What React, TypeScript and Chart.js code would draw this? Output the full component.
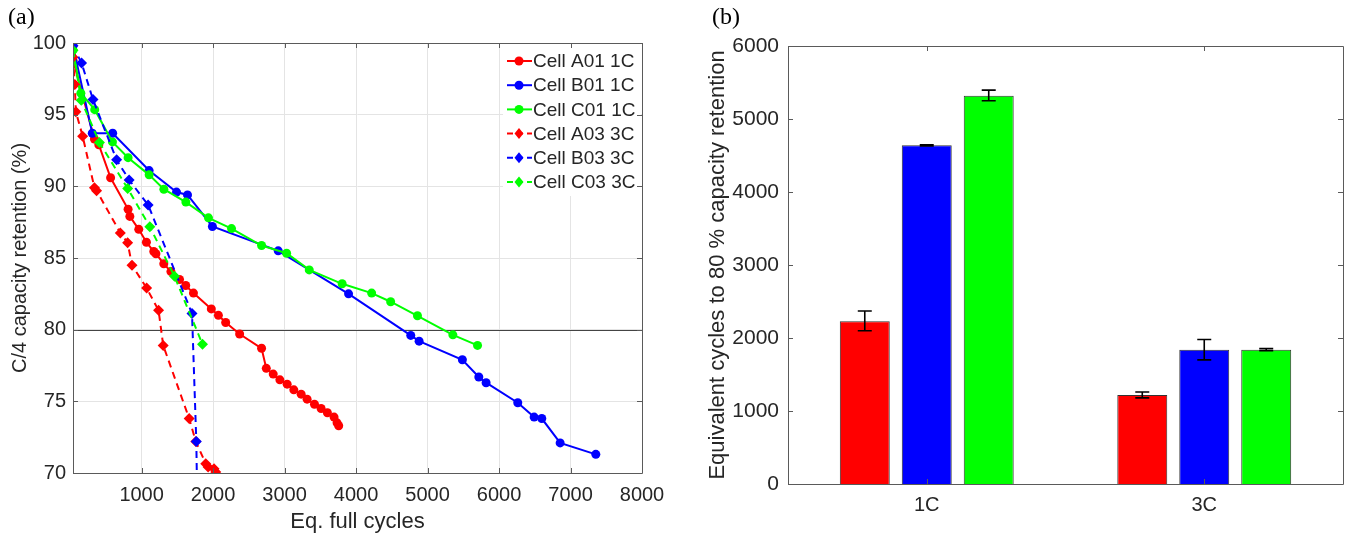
import React, { useEffect, useRef } from "react";
import { Chart, registerables } from "chart.js";
Chart.register(...registerables);

const FONT = "'Liberation Sans', Arial, Helvetica, sans-serif";
const TEXT = "#262626";
const AXIS = "#5a5a5a";

// ---------- (a) capacity retention vs equivalent full cycles ----------
const a01Cycles = [40, 340, 401, 566, 811, 835, 960, 1067, 1170, 1200, 1310, 1410, 1530, 1617, 1725, 1975, 2074, 2176, 2371, 2678, 2744, 2841, 2934, 3036, 3129, 3232, 3315, 3418, 3511, 3599, 3692, 3734, 3757];
const a01Retention = [98.8, 93.3, 92.9, 90.6, 88.4, 87.9, 87.0, 86.1, 85.45, 85.3, 84.6, 84.05, 83.5, 83.08, 82.55, 81.45, 81.0, 80.5, 79.7, 78.7, 77.3, 76.9, 76.5, 76.2, 75.8, 75.5, 75.15, 74.8, 74.5, 74.2, 73.9, 73.5, 73.3];

const b01Cycles = [40, 310, 595, 1105, 1488, 1642, 1990, 2911, 3895, 4765, 4882, 5487, 5717, 5819, 6262, 6491, 6598, 6855, 7354];
const b01Retention = [99.8, 93.7, 93.7, 91.1, 89.6, 89.4, 87.2, 85.5, 82.5, 79.6, 79.2, 77.9, 76.7, 76.3, 74.9, 73.9, 73.8, 72.1, 71.3];

const c01Cycles = [40, 150, 344, 592, 811, 1105, 1311, 1619, 1935, 2258, 2678, 3028, 3345, 3805, 4218, 4484, 4859, 5354, 5699];
const c01Retention = [99.5, 96.5, 95.35, 93.1, 92.0, 90.8, 89.8, 88.9, 87.8, 87.05, 85.87, 85.33, 84.17, 83.2, 82.55, 81.95, 80.97, 79.64, 78.9];

const a03Cycles = [40, 65, 80, 175, 340, 370, 702, 804, 865, 1070, 1237, 1302, 1665, 1758, 1897, 1930, 2013, 2037];
const a03Retention = [99.0, 97.1, 95.2, 93.5, 89.9, 89.7, 86.75, 86.07, 84.5, 82.9, 81.35, 78.9, 73.8, 72.2, 70.65, 70.42, 70.3, 70.07];

const b03Cycles = [40, 160, 320, 650, 825, 1091, 1705, 1765, 1775];
const b03Retention = [99.8, 98.6, 96.05, 91.85, 90.45, 88.7, 81.12, 72.2, 69.0];

const c03Cycles = [40, 155, 410, 805, 1115, 1460, 1852];
const c03Retention = [99.5, 96.0, 93.05, 89.85, 87.18, 83.72, 78.98];

const lineLabels = ["Cell A01 1C", "Cell B01 1C", "Cell C01 1C", "Cell A03 3C", "Cell B03 3C", "Cell C03 3C"];
const lineColors = ["#ff0000", "#0000ff", "#00ff00", "#ff0000", "#0000ff", "#00ff00"];
const lineDashed = [false, false, false, true, true, true];
const cycleSeries = [a01Cycles, b01Cycles, c01Cycles, a03Cycles, b03Cycles, c03Cycles];
const retentionSeries = [a01Retention, b01Retention, c01Retention, a03Retention, b03Retention, c03Retention];

const xTicksA = [1000, 2000, 3000, 4000, 5000, 6000, 7000, 8000];
const yTicksA = [70, 75, 80, 85, 90, 95, 100];
const thresholdA = 80;

// ---------- (b) equivalent cycles to 80 % ----------
const rateCategories = ["1C", "3C"];
const cellNames = ["Cell A", "Cell B", "Cell C"];
const barColors = ["#ff0000", "#0000ff", "#00ff00"];
const cellACycles = [2230, 1220];
const cellBCycles = [4640, 1840];
const cellCCycles = [5320, 1840];
const cellALow = [2100, 1180];
const cellAHigh = [2370, 1260];
const cellBLow = [4632, 1700];
const cellBHigh = [4648, 1980];
const cellCLow = [5250, 1825];
const cellCHigh = [5395, 1855];
const yTicksB = [0, 1000, 2000, 3000, 4000, 5000, 6000];

function drawBoxAndTicks(chart: any, xTickPx: number[], yTickPx: number[], len: number) {
  const { ctx, chartArea: a } = chart;
  ctx.save();
  ctx.strokeStyle = AXIS;
  ctx.lineWidth = 1;
  ctx.beginPath();
  ctx.rect(Math.round(a.left) + 0.5, Math.round(a.top) + 0.5, Math.round(a.right - a.left), Math.round(a.bottom - a.top));
  for (const x of xTickPx) {
    const px = Math.round(x) + 0.5;
    ctx.moveTo(px, a.bottom);
    ctx.lineTo(px, a.bottom - len);
    ctx.moveTo(px, a.top);
    ctx.lineTo(px, a.top + len);
  }
  for (const y of yTickPx) {
    const py = Math.round(y) + 0.5;
    ctx.moveTo(a.left, py);
    ctx.lineTo(a.left + len, py);
    ctx.moveTo(a.right, py);
    ctx.lineTo(a.right - len, py);
  }
  ctx.stroke();
  ctx.restore();
}

function drawMarker(ctx: CanvasRenderingContext2D, x: number, y: number, diamond: boolean, color: string) {
  ctx.fillStyle = color;
  ctx.beginPath();
  if (diamond) {
    ctx.moveTo(x, y - 5.5);
    ctx.lineTo(x + 4.5, y);
    ctx.lineTo(x, y + 5.5);
    ctx.lineTo(x - 4.5, y);
    ctx.closePath();
  } else {
    ctx.arc(x, y, 4.5, 0, Math.PI * 2);
  }
  ctx.fill();
}

const plotAPlugin = {
  id: "plotA",
  beforeDatasetsDraw(chart: any) {
    const { ctx, chartArea: a, scales } = chart;
    const y = Math.round(scales.y.getPixelForValue(thresholdA)) + 0.5;
    ctx.save();
    ctx.strokeStyle = "#444444";
    ctx.lineWidth = 1.2;
    ctx.beginPath();
    ctx.moveTo(a.left, y);
    ctx.lineTo(a.right, y);
    ctx.stroke();
    ctx.restore();
  },
  afterDatasetsDraw(chart: any) {
    const { ctx, chartArea: a, scales } = chart;
    ctx.save();
    ctx.fillStyle = "#ffffff";
    ctx.fillRect(503, a.top + 1, a.right - 504, 152);
    ctx.font = `19px ${FONT}`;
    ctx.textBaseline = "middle";
    lineLabels.forEach((lab, i) => {
      const y = 61 + i * 24.2;
      ctx.strokeStyle = lineColors[i];
      ctx.lineWidth = 2;
      ctx.setLineDash(lineDashed[i] ? [6, 4] : []);
      ctx.beginPath();
      ctx.moveTo(507, y);
      ctx.lineTo(532, y);
      ctx.stroke();
      ctx.setLineDash([]);
      drawMarker(ctx, 519, y, lineDashed[i], lineColors[i]);
      ctx.fillStyle = TEXT;
      ctx.fillText(lab, 533, y + 1);
    });
    ctx.restore();
    const xs = xTicksA.map((v) => scales.x.getPixelForValue(v));
    const ys = yTicksA.map((v) => scales.y.getPixelForValue(v));
    drawBoxAndTicks(chart, xs, ys, 5);
  },
};

const plotBPlugin = {
  id: "plotB",
  afterDatasetsDraw(chart: any) {
    const { ctx, scales } = chart;
    const lows = [cellALow, cellBLow, cellCLow];
    const highs = [cellAHigh, cellBHigh, cellCHigh];
    ctx.save();
    ctx.strokeStyle = "#000000";
    ctx.lineWidth = 1.6;
    chart.data.datasets.forEach((_: any, di: number) => {
      const meta = chart.getDatasetMeta(di);
      meta.data.forEach((bar: any, i: number) => {
        const x = bar.x;
        const yl = scales.y.getPixelForValue(lows[di][i]);
        const yh = scales.y.getPixelForValue(highs[di][i]);
        ctx.beginPath();
        ctx.moveTo(x, yl);
        ctx.lineTo(x, yh);
        ctx.moveTo(x - 7, yl);
        ctx.lineTo(x + 7, yl);
        ctx.moveTo(x - 7, yh);
        ctx.lineTo(x + 7, yh);
        ctx.stroke();
      });
    });
    ctx.restore();
    const xs = rateCategories.map((_, i) => scales.x.getPixelForValue(i));
    const ys = yTicksB.map((v) => scales.y.getPixelForValue(v));
    drawBoxAndTicks(chart, xs, ys, 5);
  },
};

const plainNumber = (v: any) => String(v);

export default function App() {
  const refA = useRef<HTMLCanvasElement>(null);
  const refB = useRef<HTMLCanvasElement>(null);

  useEffect(() => {
    const datasets = cycleSeries.map((xs, i) => ({
      label: lineLabels[i],
      data: xs.map((x, j) => ({ x, y: retentionSeries[i][j] })),
      borderColor: lineColors[i],
      backgroundColor: lineColors[i],
      borderWidth: 2,
      borderDash: lineDashed[i] ? [7, 5] : [],
      pointStyle: lineDashed[i] ? "rectRot" : "circle",
      pointRadius: lineDashed[i] ? 5.5 : 4.5,
      pointBorderWidth: 0,
      showLine: true,
      tension: 0,
      order: 6 - i,
    }));

    const chartA = new Chart(refA.current!, {
      type: "scatter",
      data: { datasets },
      plugins: [plotAPlugin],
      options: {
        animation: false,
        responsive: false,
        events: [],
        layout: { padding: { left: 0, right: 28, top: 43, bottom: 0 } },
        plugins: { legend: { display: false }, tooltip: { enabled: false } },
        scales: {
          x: {
            type: "linear",
            min: 40,
            max: 8000,
            afterBuildTicks: (s: any) => {
              s.ticks = xTicksA.map((v) => ({ value: v }));
            },
            afterFit: (s: any) => {
              s.height = 66;
              s.paddingLeft = 0;
              s.paddingRight = 0;
            },
            grid: { color: "#e4e4e4", drawTicks: false, lineWidth: 1 },
            border: { display: false },
            ticks: { color: TEXT, font: { family: FONT, size: 20 }, padding: 10, maxRotation: 0, callback: plainNumber },
            title: { display: true, text: "Eq. full cycles", color: TEXT, font: { family: FONT, size: 22 }, padding: { top: 0, bottom: 4 } },
          },
          y: {
            type: "linear",
            min: 70,
            max: 100,
            afterBuildTicks: (s: any) => {
              s.ticks = yTicksA.map((v) => ({ value: v }));
            },
            afterFit: (s: any) => {
              s.width = 73;
              s.paddingTop = 0;
              s.paddingBottom = 0;
            },
            grid: { color: "#e4e4e4", drawTicks: false, lineWidth: 1 },
            border: { display: false },
            ticks: { color: TEXT, font: { family: FONT, size: 20 }, padding: 7, callback: plainNumber },
            title: { display: true, text: "C/4 capacity retention (%)", color: TEXT, font: { family: FONT, size: 20 }, padding: { top: 8, bottom: 0 } },
          },
        },
      } as any,
    });

    const barData = [cellACycles, cellBCycles, cellCCycles];
    const chartB = new Chart(refB.current!, {
      type: "bar",
      data: {
        labels: rateCategories,
        datasets: barData.map((d, i) => ({
          label: cellNames[i],
          data: d,
          backgroundColor: barColors[i],
          borderColor: "#333333",
          borderWidth: 1,
          categoryPercentage: 0.67,
          barPercentage: 0.806,
        })),
      },
      plugins: [plotBPlugin],
      options: {
        animation: false,
        responsive: false,
        events: [],
        layout: { padding: { left: 0, right: 7, top: 46, bottom: 0 } },
        plugins: { legend: { display: false }, tooltip: { enabled: false } },
        scales: {
          x: {
            afterFit: (s: any) => {
              s.height = 55;
              s.paddingLeft = 0;
              s.paddingRight = 0;
            },
            grid: { display: false, drawTicks: false },
            border: { display: false },
            ticks: { color: TEXT, font: { family: FONT, size: 20 }, padding: 9 },
          },
          y: {
            min: 0,
            max: 6000,
            afterBuildTicks: (s: any) => {
              s.ticks = yTicksB.map((v) => ({ value: v }));
            },
            afterFit: (s: any) => {
              s.width = 118;
              s.paddingTop = 0;
              s.paddingBottom = 0;
            },
            grid: { display: false, drawTicks: false },
            border: { display: false },
            ticks: { color: TEXT, font: { family: FONT, size: 21 }, padding: 9, callback: plainNumber },
            title: { display: true, text: "Equivalent cycles to 80 % capacity retention", color: TEXT, font: { family: FONT, size: 22 }, padding: { top: 35, bottom: 0 } },
          },
        },
      } as any,
    });

    return () => {
      chartA.destroy();
      chartB.destroy();
    };
  }, []);

  const panelLabel: React.CSSProperties = {
    position: "absolute",
    top: 2,
    fontFamily: "'Liberation Serif', 'Times New Roman', serif",
    fontSize: 24,
    color: "#000",
    lineHeight: "28px",
  };

  return (
    <div style={{ position: "fixed", left: 0, top: 0, width: 1350, height: 539, background: "#fff", overflow: "hidden" }}>
      <canvas ref={refA} width={670} height={539} style={{ position: "absolute", left: 0, top: 0, width: 670, height: 539 }} />
      <canvas ref={refB} width={680} height={539} style={{ position: "absolute", left: 670, top: 0, width: 680, height: 539 }} />
      <div style={{ ...panelLabel, left: 8 }}>(a)</div>
      <div style={{ ...panelLabel, left: 712 }}>(b)</div>
    </div>
  );
}
